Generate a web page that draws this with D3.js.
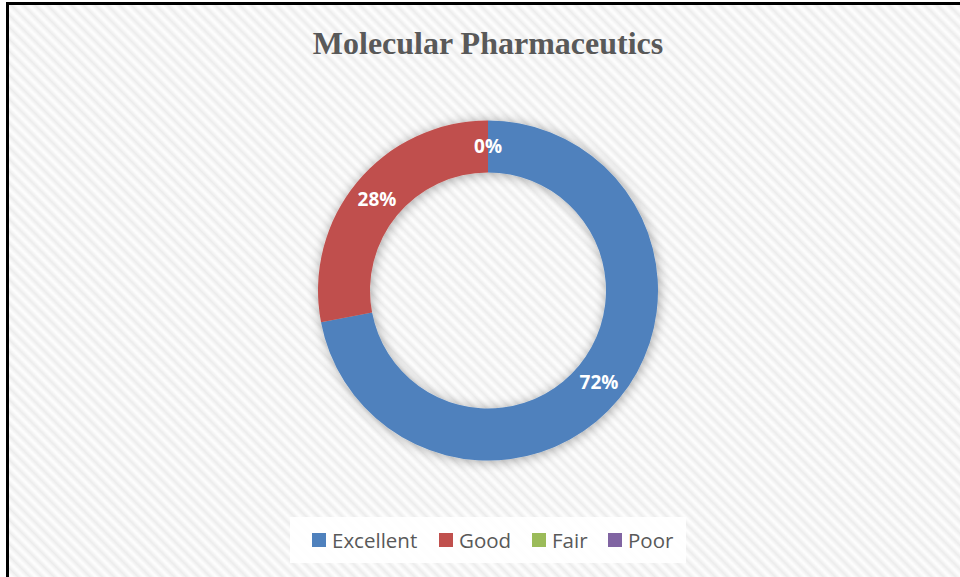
<!DOCTYPE html>
<html>
<head>
<meta charset="utf-8">
<script src="https://cdn.jsdelivr.net/npm/d3@7"></script>
<style>
  html, body { margin: 0; padding: 0; background: #fff; }
  svg { display: block; }
</style>
</head>
<body>
<svg id="chart" width="960" height="577"></svg>
<script>
// Rating shares for the course
const categories = ["Excellent", "Good", "Fair", "Poor"];
const shares = [72, 28, 0, 0];
const colors = ["#4f81bd", "#c0504d", "#9bbb59", "#8064a2"];
const chartTitle = "Molecular Pharmaceutics";

const svg = d3.select("#chart");
const W = 960, H = 577;
const defs = svg.append("defs");

// Diagonal light hatch for the chart area, with soft stripe edges
const grad = defs.append("linearGradient").attr("id", "stripe")
  .attr("x1", "0").attr("x2", "1").attr("y1", "0").attr("y2", "0");
grad.append("stop").attr("offset", "0%").attr("stop-color", "#ffffff");
grad.append("stop").attr("offset", "50%").attr("stop-color", "#ececec");
grad.append("stop").attr("offset", "100%").attr("stop-color", "#ffffff");
const pat = defs.append("pattern")
  .attr("id", "hatch")
  .attr("patternUnits", "userSpaceOnUse")
  .attr("width", 8.5).attr("height", 8.5)
  .attr("patternTransform", "rotate(-45)");
pat.append("rect").attr("width", 8.5).attr("height", 8.5).attr("fill", "url(#stripe)");

// Soft shadow around the ring
const f = defs.append("filter").attr("id", "shadow")
  .attr("x", "-20%").attr("y", "-20%").attr("width", "140%").attr("height", "140%");
f.append("feGaussianBlur").attr("in", "SourceAlpha").attr("stdDeviation", 6).attr("result", "b");
f.append("feOffset").attr("in", "b").attr("dx", 1).attr("dy", 1).attr("result", "o");
f.append("feComponentTransfer").attr("in", "o").attr("result", "s")
  .append("feFuncA").attr("type", "linear").attr("slope", 0.35);
const m = f.append("feMerge");
m.append("feMergeNode").attr("in", "s");
m.append("feMergeNode").attr("in", "SourceGraphic");

// Background and frame
svg.append("rect").attr("x", 0).attr("y", 0).attr("width", W).attr("height", H).attr("fill", "#fff");
svg.append("rect").attr("x", 9).attr("y", 5).attr("width", W).attr("height", H)
  .attr("fill", "url(#hatch)");
svg.append("line").attr("x1", 7.5).attr("x2", 7.5).attr("y1", 2).attr("y2", H)
  .attr("stroke", "#000").attr("stroke-width", 3);
svg.append("line").attr("x1", 6).attr("x2", W).attr("y1", 3.5).attr("y2", 3.5)
  .attr("stroke", "#000").attr("stroke-width", 3);

// Title
svg.append("text")
  .attr("x", 488).attr("y", 54)
  .attr("text-anchor", "middle")
  .attr("font-family", "'Liberation Serif', 'Times New Roman', serif")
  .attr("font-weight", "bold")
  .attr("font-size", 32)
  .attr("fill", "#595959")
  .text(chartTitle);

// Donut
const cx = 488, cy = 290.5, rOuter = 170, rInner = 118;
const pie = d3.pie().sort(null).value(d => d)(shares);
const arc = d3.arc().innerRadius(rInner).outerRadius(rOuter);
const g = svg.append("g").attr("transform", `translate(${cx},${cy})`);

g.append("g").attr("filter", "url(#shadow)")
  .selectAll("path")
  .data(pie)
  .join("path")
  .attr("d", arc)
  .attr("fill", (d, i) => colors[i]);

// Percentage labels at arc centroids (coincident labels drawn once)
const seen = new Set();
const labels = pie.filter(d => {
  const c = arc.centroid(d).map(v => Math.round(v)).join(",");
  if (seen.has(c)) return false;
  seen.add(c);
  return true;
});
const total = d3.sum(shares);
g.selectAll("text.lbl")
  .data(labels)
  .join("text")
  .attr("class", "lbl")
  .attr("transform", d => `translate(${arc.centroid(d)})`)
  .attr("text-anchor", "middle")
  .attr("dy", "0.36em")
  .attr("font-family", "'Open Sans', Lato, sans-serif")
  .attr("font-weight", "bold")
  .attr("font-size", 19)
  .attr("fill", "#ffffff")
  .text(d => Math.round(d.data / total * 100) + "%");

// Legend
const legend = svg.append("g");
legend.append("rect")
  .attr("x", 290).attr("y", 517).attr("width", 396).attr("height", 46)
  .attr("fill", "#ffffff").attr("opacity", 0.9);
const legendX = [312, 439, 532, 608];
const item = legend.selectAll("g.item")
  .data(categories)
  .join("g")
  .attr("class", "item")
  .attr("transform", (d, i) => `translate(${legendX[i]},533)`);
item.append("rect").attr("width", 14).attr("height", 14).attr("fill", (d, i) => colors[i]);
item.append("text")
  .attr("x", 20).attr("y", 14.5)
  .attr("font-family", "'Open Sans', Lato, sans-serif")
  .attr("font-size", 20.5)
  .attr("fill", "#595959")
  .text(d => d);
</script>
</body>
</html>
